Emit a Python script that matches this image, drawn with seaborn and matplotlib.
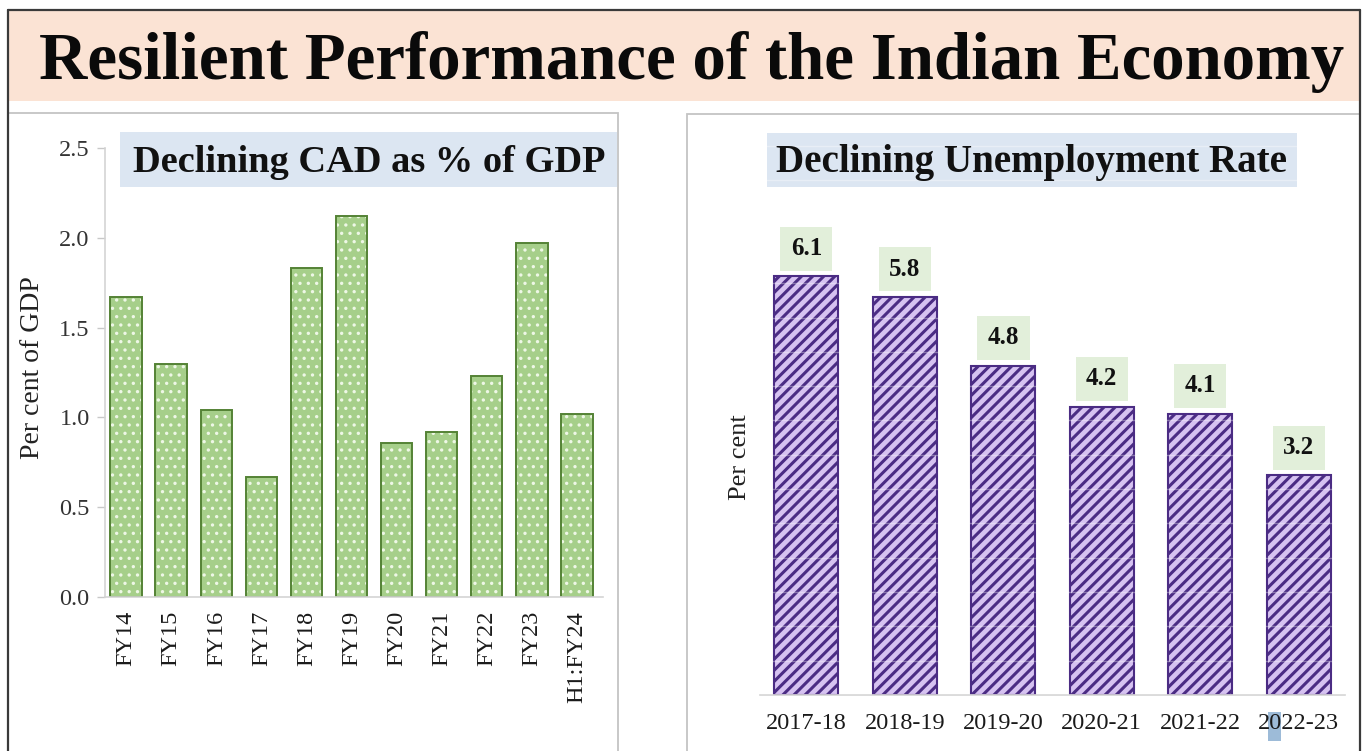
import numpy as np
import pandas as pd
import seaborn as sns
import matplotlib.pyplot as plt
from matplotlib.patches import Rectangle
from matplotlib.lines import Line2D
from matplotlib.ticker import FormatStrFormatter

# ---- data ----
cad_years = ["FY14", "FY15", "FY16", "FY17", "FY18", "FY19", "FY20",
             "FY21", "FY22", "FY23", "H1:FY24"]
cad_values = [1.67, 1.30, 1.04, 0.67, 1.83, 2.12, 0.86, 0.92, 1.23, 1.97, 1.02]
cad_yticks = [0.0, 0.5, 1.0, 1.5, 2.0, 2.5]

unemp_years = ["2017-18", "2018-19", "2019-20", "2020-21", "2021-22", "2022-23"]
unemp_values = [6.1, 5.8, 4.8, 4.2, 4.1, 3.2]

main_title = "Resilient Performance of the Indian Economy"
left_title = "Declining CAD as % of GDP"
right_title = "Declining Unemployment Rate"

# ---- style ----
sns.set_theme(style="white")
plt.rcParams["font.family"] = ["Liberation Serif", "DejaVu Serif"]
plt.rcParams["hatch.linewidth"] = 2.2

W, H = 1368, 751
def fx(x):
    return x / W
def fy(y):
    return 1 - y / H

fig = plt.figure(figsize=(W / 100, H / 100), dpi=100)
fig.patch.set_facecolor("white")

# ---- frame / decorations ----
fig.patches.append(Rectangle((fx(8), fy(101)), fx(1360) - fx(8), fy(10) - fy(101),
                             transform=fig.transFigure, facecolor="#fbe3d4",
                             edgecolor="none", zorder=-3))
fig.patches.append(Rectangle((fx(8), fy(760)), fx(618) - fx(8), fy(113) - fy(760),
                             transform=fig.transFigure, facecolor="none",
                             edgecolor="#c4c4c4", lw=1.3, zorder=-2))
fig.patches.append(Rectangle((fx(687), fy(760)), fx(1360) - fx(687), fy(114) - fy(760),
                             transform=fig.transFigure, facecolor="none",
                             edgecolor="#c4c4c4", lw=1.3, zorder=-2))
for xs, ys in [([8, 8], [10, 751]), ([1360, 1360], [10, 751]), ([8, 1360], [10, 10])]:
    fig.lines.append(Line2D([fx(v) for v in xs], [fy(v) for v in ys],
                            transform=fig.transFigure, color="#3a3a3a", lw=1.6))
fig.patches.append(Rectangle((fx(120), fy(187)), fx(617) - fx(120), fy(132) - fy(187),
                             transform=fig.transFigure, facecolor="#dce6f2",
                             edgecolor="none", zorder=-2))
fig.patches.append(Rectangle((fx(767), fy(187)), fx(1297) - fx(767), fy(133) - fy(187),
                             transform=fig.transFigure, facecolor="#dce6f2",
                             edgecolor="none", zorder=-2))
# small blue selection mark near last tick label
fig.patches.append(Rectangle((fx(1268), fy(741)), fx(1281) - fx(1268), fy(712) - fy(741),
                             transform=fig.transFigure, facecolor="#9dbbd8",
                             edgecolor="none", zorder=-2))

t_main = fig.text(fx(692), fy(79), main_title, ha="center", va="baseline",
                  fontsize=48, fontweight="bold", color="#0a0a0a")
t_left = fig.text(fx(369), fy(172), left_title, ha="center", va="baseline",
                  fontsize=27, fontweight="bold", color="#111111")
t_right = fig.text(fx(1032), fy(172), right_title, ha="center", va="baseline",
                   fontsize=27, fontweight="bold", color="#111111")

# ---- left chart ----
ax1 = fig.add_axes([fx(105), fy(597), fx(603) - fx(105), fy(148) - fy(597)])
ax1.set_facecolor("none")
df1 = pd.DataFrame({"year": cad_years, "value": cad_values})
with plt.rc_context({"hatch.linewidth": 1.2}):
    sns.barplot(data=df1, x="year", y="value", ax=ax1, color="#a6cf8a",
                width=0.7, saturation=1, errorbar=None)
    for p in ax1.patches:
        p.set_hatch("..")
        p.set_edgecolor("#eef7e6")
        p.set_linewidth(0)
n1 = len(ax1.patches)
sns.barplot(data=df1, x="year", y="value", ax=ax1, color="#548235",
            width=0.7, saturation=1, errorbar=None, fill=False)
for p in ax1.patches[n1:]:
    p.set_facecolor("none")
    p.set_edgecolor("#548235")
    p.set_linewidth(1.4)
    p.set_hatch(None)

ax1.set_xlim(-0.47, 10.58)
ax1.set_ylim(0, 2.5)
ax1.set_yticks(cad_yticks)
ax1.yaxis.set_major_formatter(FormatStrFormatter("%.1f"))
ax1.set_xlabel("")
ax1.set_ylabel("Per cent of GDP", fontsize=20, color="#222222", va="center")
ax1.yaxis.set_label_coords(-0.145, 0.512)
ax1.tick_params(axis="x", rotation=90, length=0, pad=10, labelsize=17.5,
                labelcolor="#1a1a1a")
ax1.tick_params(axis="y", length=6, width=1, color="#c8c8c8", left=True,
                labelsize=17.5, labelcolor="#333333", pad=5)
for s in ["top", "right"]:
    ax1.spines[s].set_visible(False)
for s in ["left", "bottom"]:
    ax1.spines[s].set_color("#d4d4d4")
    ax1.spines[s].set_linewidth(1.2)

# ---- right chart ----
ax2 = fig.add_axes([fx(760), fy(695), fx(1345) - fx(760), fy(135) - fy(695)])
ax2.set_facecolor("none")
df2 = pd.DataFrame({"year": unemp_years, "value": unemp_values})
sns.barplot(data=df2, x="year", y="value", ax=ax2, color="#d6c2f1",
            width=0.65, saturation=1, errorbar=None)
for p in ax2.patches:
    p.set_hatch("///")
    p.set_edgecolor("#4b2c84")
    p.set_linewidth(1.5)

ax2.set_xlim(-0.47, 5.47)
ax2.set_ylim(0, 8.16)
ax2.set_yticks(np.arange(0, 8.5, 0.5))
ax2.set_axisbelow(False)
ax2.grid(axis="y", color="white", alpha=0.35, lw=1)
ax2.grid(axis="x", visible=False)
ax2.set_xlabel("")
ax2.set_ylabel("Per cent", fontsize=19, color="#222222", va="center")
ax2.yaxis.set_label_coords(-0.034, 0.425)
ax2.tick_params(axis="y", length=0, labelleft=False)
ax2.tick_params(axis="x", length=0, pad=13, labelsize=17.5, labelcolor="#1a1a1a")
for s in ["top", "right", "left"]:
    ax2.spines[s].set_visible(False)
ax2.spines["bottom"].set_color("#d4d4d4")
ax2.spines["bottom"].set_linewidth(1.2)

for p in ax2.patches:
    cx = p.get_x() + p.get_width() / 2
    v = p.get_height()
    ax2.annotate(f"{v:.1f}", xy=(cx, v), xytext=(0, 20), textcoords="offset points",
                 ha="center", va="center", fontsize=18, fontweight="bold",
                 color="#111111", zorder=5,
                 bbox=dict(boxstyle="square,pad=0.42", fc="#e2efda", ec="none"))

# ---- fit title widths ----
fig.canvas.draw()
r = fig.canvas.get_renderer()
for t, target in [(t_main, 1305), (t_left, 472), (t_right, 511)]:
    w = t.get_window_extent(r).width
    t.set_fontsize(t.get_fontsize() * target / w)

fig.savefig("out.png", dpi=100)
